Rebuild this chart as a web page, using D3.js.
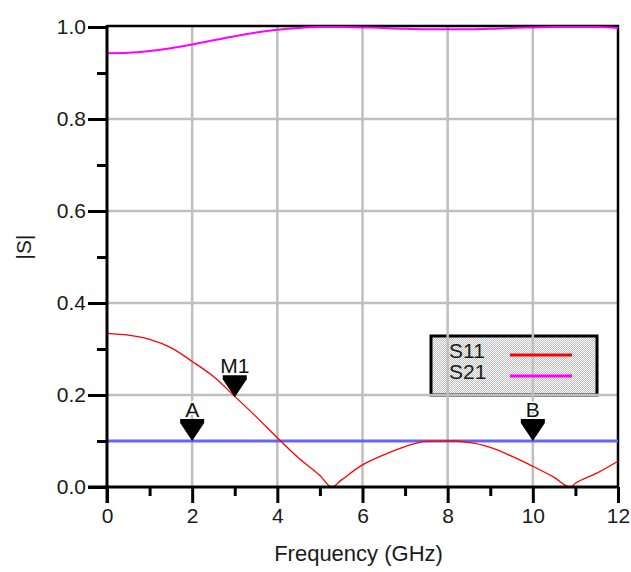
<!DOCTYPE html>
<html><head><meta charset="utf-8">
<script src="https://cdn.jsdelivr.net/npm/d3@7"></script>
<style>body{margin:0;background:#fff}svg{display:block}</style>
</head><body><svg id="c" width="631" height="572"></svg>
<script>
// ---- data ----
const freq = [0,0.5,1,1.5,2,2.5,3,3.5,4,4.5,5,5.28,5.5,6,6.5,7,7.5,8,8.5,9,9.5,10,10.5,10.88,11,11.5,12];
const s11  = [0.334,0.330,0.321,0.303,0.273,0.240,0.197,0.153,0.107,0.063,0.025,0.0,0.015,0.048,0.070,0.088,0.099,0.100,0.097,0.086,0.067,0.045,0.021,0.0,0.008,0.030,0.056];
const s21  = [0.943,0.944,0.948,0.954,0.962,0.971,0.980,0.988,0.994,0.998,1.0,1.0,1.0,0.999,0.998,0.996,0.995,0.995,0.995,0.996,0.998,0.999,1.0,1.0,1.0,1.0,0.998];
const limitFreq = [0,12];
const limitVal  = [0.1,0.1];
const xTicks = [0,2,4,6,8,10,12];
const xMinor = [1,3,5,7,9,11];
const yTicks = [0,0.2,0.4,0.6,0.8,1.0];
const yMinor = [0.1,0.3,0.5,0.7,0.9];
const markerLabels = ["A","M1","B"];
const markerFreq   = [2,3,10];
const markerVal    = [0.1,0.195,0.1];
const legendNames  = ["S11","S21"];
const seriesColors = ["#ff0000","#ff00ff"];
const limitColor   = "#6464ff";

// ---- drawing ----
const svg = d3.select("#c");
const font = "'Liberation Sans', Arial, sans-serif";
const x = d3.scaleLinear().domain([0,12]).range([107,618]);
const y = d3.scaleLinear().domain([0,1]).range([487,27]);

const defs = svg.append("defs");
const pat = defs.append("pattern").attr("id","dith").attr("width",2).attr("height",2).attr("patternUnits","userSpaceOnUse");
pat.append("rect").attr("width",2).attr("height",2).attr("fill","#ffffff");
pat.append("rect").attr("x",1).attr("y",0).attr("width",1).attr("height",1).attr("fill","#bdbdbd");
pat.append("rect").attr("x",0).attr("y",1).attr("width",1).attr("height",1).attr("fill","#bdbdbd");

// legend box (under grid)
const lg = {x0:431, y0:336, x1:597, y1:395};
svg.append("rect").attr("x",lg.x0).attr("y",lg.y0).attr("width",lg.x1-lg.x0).attr("height",lg.y1-lg.y0)
  .attr("fill","url(#dith)").attr("stroke","#000").attr("stroke-width",3);

// grid
const grid = svg.append("g").attr("stroke","#bfbfbf").attr("stroke-width",2.5);
grid.selectAll("line.v").data(xTicks.filter(d=>d>0&&d<12)).join("line")
  .attr("x1",d=>x(d)).attr("x2",d=>x(d)).attr("y1",y(1)).attr("y2",y(0));
grid.selectAll("line.h").data(yTicks.filter(d=>d>0&&d<1)).join("line")
  .attr("x1",x(0)).attr("x2",x(12)).attr("y1",d=>y(d)).attr("y2",d=>y(d));

// frame (top and right)
svg.append("path").attr("d",`M${x(0)},${y(1)-1}H${x(12)}V${y(0)}`)
  .attr("fill","none").attr("stroke","#000").attr("stroke-width",2.5);

// limit line
const line = d3.line().x(d=>x(d[0])).y(d=>y(d[1]));
svg.append("path").datum(limitFreq.map((f,i)=>[f,limitVal[i]])).attr("d",line)
  .attr("fill","none").attr("stroke",limitColor).attr("stroke-width",3);

// curves
const curve = d3.line().x(d=>x(d[0])).y(d=>y(d[1])).curve(d3.curveMonotoneX);
svg.append("path").datum(freq.map((f,i)=>[f,s11[i]])).attr("d",curve)
  .attr("fill","none").attr("stroke",seriesColors[0]).attr("stroke-width",1.3);
svg.append("path").datum(freq.map((f,i)=>[f,s21[i]])).attr("d",curve)
  .attr("fill","none").attr("stroke",seriesColors[1]).attr("stroke-width",2);

// axes
const ax = svg.append("g").attr("transform",`translate(0,${y(0)})`)
  .call(d3.axisBottom(x).tickValues(xTicks).tickSize(16).tickSizeOuter(0).tickPadding(5).tickFormat(d3.format("d")));
const axm = svg.append("g").attr("transform",`translate(0,${y(0)})`)
  .call(d3.axisBottom(x).tickValues(xMinor).tickSize(9).tickSizeOuter(0).tickFormat(""));
axm.select(".domain").remove();
const ay = svg.append("g").attr("transform",`translate(${x(0)},0)`)
  .call(d3.axisLeft(y).tickValues(yTicks).tickSize(19).tickSizeOuter(0).tickPadding(2).tickFormat(d3.format(".1f")));
const aym = svg.append("g").attr("transform",`translate(${x(0)},0)`)
  .call(d3.axisLeft(y).tickValues(yMinor).tickSize(10).tickSizeOuter(0).tickFormat(""));
aym.select(".domain").remove();
[ax,axm,ay,aym].forEach(g=>{
  g.selectAll("line").attr("stroke","#000").attr("stroke-width",3);
  g.selectAll(".domain").attr("stroke","#000").attr("stroke-width",3);
  g.selectAll("text").attr("fill","#1a1a1a").style("font-family",font).style("font-size","21px");
});
ax.select(".domain").attr("d",`M${x(0)-19},0H${x(12)+1}`);
ay.select(".domain").attr("d",`M0,${y(1)-2}V${y(0)+16}`);

// axis titles
svg.append("text").attr("x",(x(0)+x(12))/2-4).attr("y",561).attr("text-anchor","middle")
  .style("font-family",font).style("font-size","22px").attr("fill","#1a1a1a").text("Frequency (GHz)");
svg.append("text").attr("transform",`translate(31,${(y(0)+y(1))/2-10}) rotate(-90)`).attr("text-anchor","middle")
  .style("font-family",font).style("font-size","21px").attr("fill","#1a1a1a").text("|S|");

// markers
const mk = svg.append("g").selectAll("g").data(markerLabels.map((l,i)=>({l,f:markerFreq[i],v:markerVal[i]}))).join("g")
  .attr("transform",d=>`translate(${x(d.f)},${y(d.v)})`);
mk.append("path").attr("d","M-12,-22H12V-18L0,0L-12,-18Z").attr("fill","#000");
mk.append("text").attr("y",-24).attr("text-anchor","middle").style("font-family",font).style("font-size","21px")
  .attr("fill","#111").attr("stroke","#fff").attr("stroke-width",3).attr("paint-order","stroke").text(d=>d.l);

// legend contents
const li = svg.append("g").selectAll("g").data(legendNames).join("g")
  .attr("transform",(d,i)=>`translate(0,${358+i*21})`);
li.append("text").attr("x",449).attr("y",0).style("font-family",font).style("font-size","21px").attr("fill","#1a1a1a").text(d=>d);
li.append("line").attr("x1",510).attr("x2",572).attr("y1",-3).attr("y2",-3)
  .attr("stroke",(d,i)=>seriesColors[i]).attr("stroke-width",3);
</script></body></html>
